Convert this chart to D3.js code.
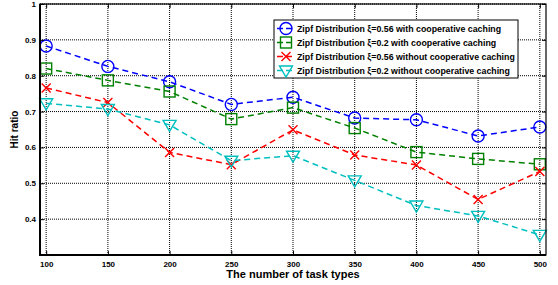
<!DOCTYPE html>
<html>
<head>
<meta charset="utf-8">
<script src="https://cdn.jsdelivr.net/npm/d3@7"></script>
<style>
  body { margin: 0; background: #fff; }
  text { font-family: "Liberation Sans", Arial, sans-serif; font-weight: bold; }
</style>
</head>
<body>
<div id="chart"></div>
<script>
var taskTypes = [100, 150, 200, 250, 300, 350, 400, 450, 500];
var xTicks = [100, 150, 200, 250, 300, 350, 400, 450, 500];
var yTicks = [0.4, 0.5, 0.6, 0.7, 0.8, 0.9, 1];

var coop056 = [0.883, 0.826, 0.783, 0.72, 0.74, 0.682, 0.677, 0.632, 0.657];
var coop02 = [0.82, 0.787, 0.756, 0.679, 0.711, 0.654, 0.587, 0.568, 0.553];
var noCoop056 = [0.766, 0.725, 0.586, 0.552, 0.649, 0.579, 0.551, 0.455, 0.533];
var noCoop02 = [0.723, 0.707, 0.663, 0.563, 0.577, 0.508, 0.438, 0.409, 0.356];

var seriesNames = [
  "Zipf Distribution \u03be=0.56 with cooperative caching",
  "Zipf Distribution \u03be=0.2 with cooperative caching",
  "Zipf Distribution \u03be=0.56 without cooperative caching",
  "Zipf Distribution \u03be=0.2 without cooperative caching"
];

var series = [
  { name: seriesNames[0], values: coop056, color: "#0000ff", marker: "circle" },
  { name: seriesNames[1], values: coop02, color: "#008000", marker: "square" },
  { name: seriesNames[2], values: noCoop056, color: "#ff0000", marker: "x" },
  { name: seriesNames[3], values: noCoop02, color: "#00bfbf", marker: "triangle" }
];

var width = 558, height = 285;
var margin = { left: 40, right: 12, top: 4, bottom: 30 };

var svg = d3.select("#chart").append("svg")
  .attr("width", width)
  .attr("height", height);

var x = d3.scaleLinear().domain([95, 505]).range([margin.left, width - margin.right]);
var y = d3.scaleLinear().domain([0.3, 1]).range([height - margin.bottom, margin.top]);

var plot = svg.append("g");

// dotted grid
plot.selectAll(".vgrid").data(xTicks).enter().append("line")
  .attr("x1", function(d) { return x(d); })
  .attr("x2", function(d) { return x(d); })
  .attr("y1", y.range()[0]).attr("y2", y.range()[1])
  .attr("stroke", "#000").attr("stroke-width", 1)
  .attr("stroke-dasharray", "1,1");

plot.selectAll(".hgrid").data(yTicks).enter().append("line")
  .attr("x1", x.range()[0]).attr("x2", x.range()[1])
  .attr("y1", function(d) { return y(d); })
  .attr("y2", function(d) { return y(d); })
  .attr("stroke", "#000").attr("stroke-width", 1)
  .attr("stroke-dasharray", "1,1");

// axes, ticks inside
var xAxis = d3.axisBottom(x).tickValues(xTicks).tickSize(-4).tickPadding(6).tickFormat(d3.format("d"));
var yAxis = d3.axisLeft(y).tickValues(yTicks).tickSize(-4).tickPadding(4).tickFormat(function(d) { return d === 1 ? "1" : d3.format(".1f")(d); });

var gx = svg.append("g")
  .attr("transform", "translate(0," + y.range()[0] + ")")
  .call(xAxis);
var gy = svg.append("g")
  .attr("transform", "translate(" + x.range()[0] + ",0)")
  .call(yAxis);

[gx, gy].forEach(function(g) {
  g.select(".domain").remove();
  g.selectAll("text").attr("font-size", 8).attr("fill", "#000")
    .style("font-family", "'Liberation Sans', Arial, sans-serif").style("font-weight", "bold");
  g.selectAll(".tick line").attr("stroke-width", 1);
});

// top and right ticks
svg.append("g").attr("transform", "translate(0," + y.range()[1] + ")")
  .call(d3.axisTop(x).tickValues(xTicks).tickSize(-4).tickFormat(""))
  .select(".domain").remove();
svg.append("g").attr("transform", "translate(" + x.range()[1] + ",0)")
  .call(d3.axisRight(y).tickValues(yTicks).tickSize(-4).tickFormat(""))
  .select(".domain").remove();

// frame
svg.append("rect")
  .attr("x", x.range()[0]).attr("y", y.range()[1])
  .attr("width", x.range()[1] - x.range()[0])
  .attr("height", y.range()[0] - y.range()[1])
  .attr("fill", "none").attr("stroke", "#000").attr("stroke-width", 1.2);
svg.append("path")
  .attr("d", "M" + x.range()[0] + "," + y.range()[1] + "V" + y.range()[0] + "H" + x.range()[1])
  .attr("fill", "none").attr("stroke", "#000").attr("stroke-width", 2);

// labels
svg.append("text")
  .attr("x", (x.range()[0] + x.range()[1]) / 2)
  .attr("y", 278)
  .attr("text-anchor", "middle")
  .attr("font-size", 11)
  .text("The number of task types");

svg.append("text")
  .attr("transform", "translate(18," + (y(0.65)) + ") rotate(-90)")
  .attr("text-anchor", "middle")
  .attr("font-size", 10)
  .text("Hit ratio");

function drawMarker(g, type, color) {
  if (type === "circle") {
    g.append("circle").attr("r", 6).attr("fill", "none").attr("stroke", color).attr("stroke-width", 1.4);
  } else if (type === "square") {
    g.append("rect").attr("x", -5.5).attr("y", -5.5).attr("width", 11).attr("height", 11)
      .attr("fill", "none").attr("stroke", color).attr("stroke-width", 1.4);
  } else if (type === "x") {
    g.append("path").attr("d", "M-4.5,-4.5L4.5,4.5M-4.5,4.5L4.5,-4.5")
      .attr("fill", "none").attr("stroke", color).attr("stroke-width", 1.4);
  } else {
    g.append("path").attr("d", "M-6.5,-4.5L6.5,-4.5L0,6.5Z")
      .attr("fill", "none").attr("stroke", color).attr("stroke-width", 1.4);
  }
}

var line = d3.line()
  .x(function(d, i) { return x(taskTypes[i]); })
  .y(function(d) { return y(d); });

series.forEach(function(s) {
  plot.append("path")
    .datum(s.values)
    .attr("d", line)
    .attr("fill", "none")
    .attr("stroke", s.color)
    .attr("stroke-width", 1.5)
    .attr("stroke-dasharray", "6,4");
  s.values.forEach(function(v, i) {
    var m = plot.append("g").attr("transform", "translate(" + x(taskTypes[i]) + "," + y(v) + ")");
    drawMarker(m, s.marker, s.color);
  });
});

// legend
var legend = svg.append("g").attr("transform", "translate(274,20)");
legend.append("rect")
  .attr("width", 244).attr("height", 58)
  .attr("fill", "#fff").attr("stroke", "#000").attr("stroke-width", 1);

series.forEach(function(s, i) {
  var ly = 8.5 + i * 14;
  var row = legend.append("g").attr("transform", "translate(0," + ly + ")");
  row.append("line").attr("x1", 3).attr("x2", 21).attr("y1", 0).attr("y2", 0)
    .attr("stroke", s.color).attr("stroke-width", 1.5).attr("stroke-dasharray", "6,3");
  var m = row.append("g").attr("transform", "translate(12,0)");
  drawMarker(m, s.marker, s.color);
  row.append("text").attr("x", 23).attr("y", 3).attr("font-size", 8.8).text(s.name);
});
</script>
</body>
</html>
